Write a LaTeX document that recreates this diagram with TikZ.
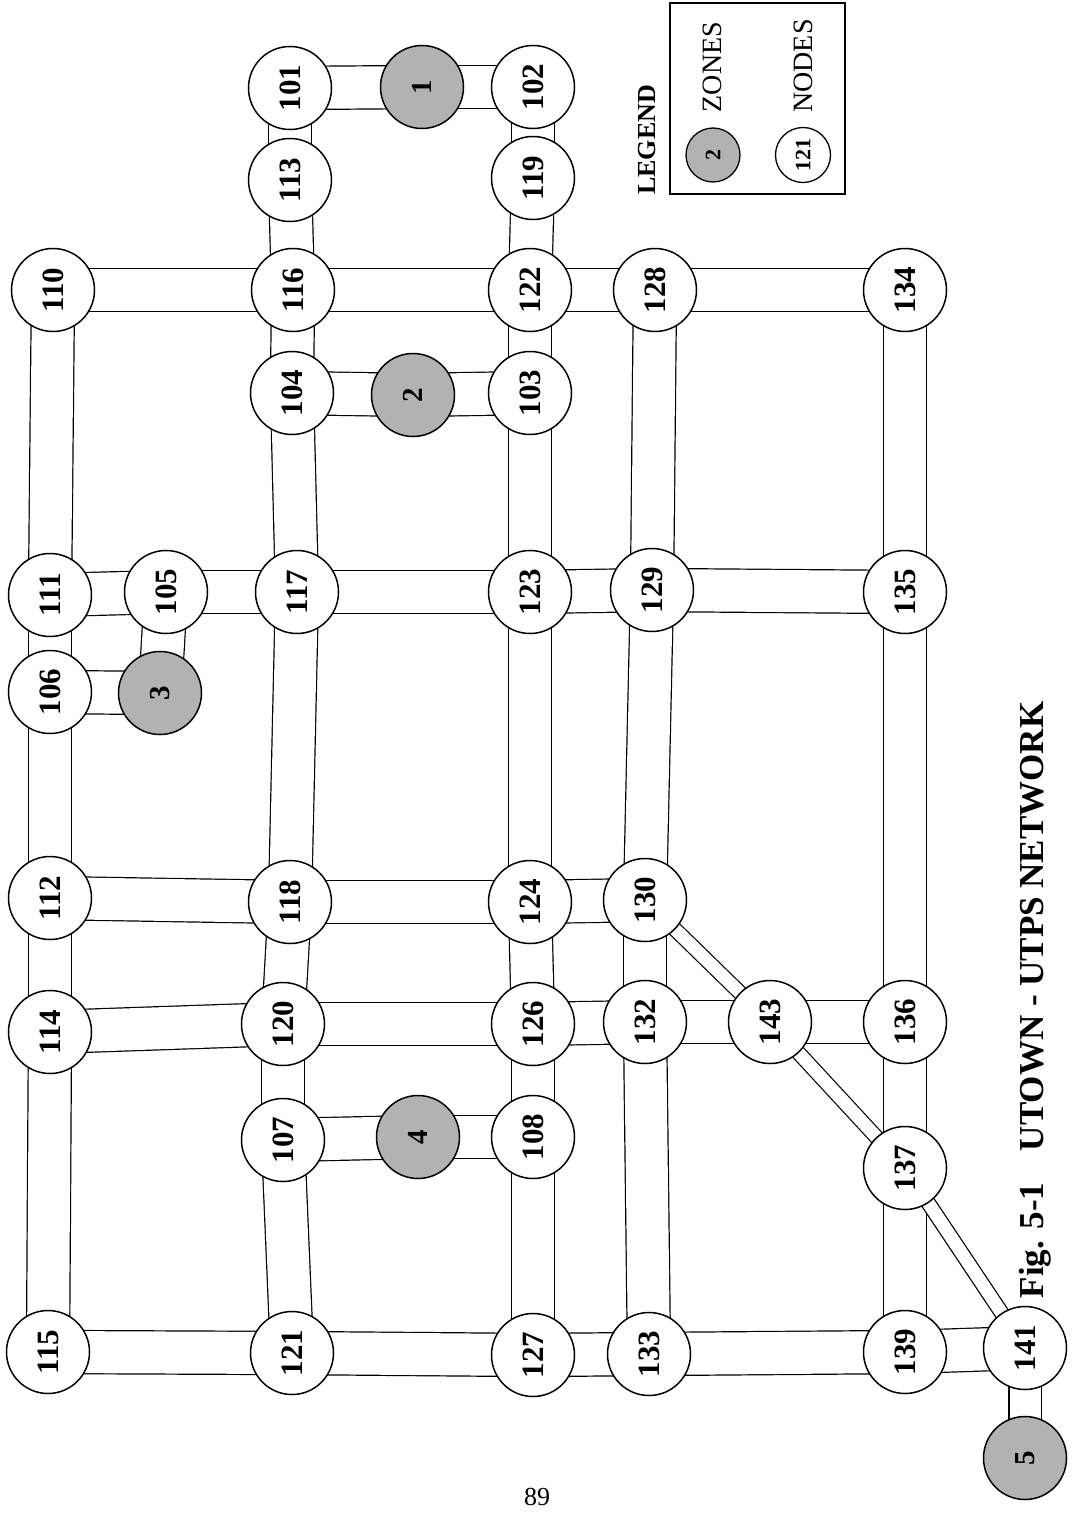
\documentclass[tikz,border=0pt]{standalone}
\usepackage{fontspec}
\setmainfont{Liberation Serif}
\pgfdeclarelayer{bg}
\pgfsetlayers{bg,main}
\tikzset{
  nd/.style={circle, draw=black, line width=1.5pt, fill=white, minimum size=83pt, inner sep=0pt, rotate=90, font=\bfseries\fontsize{31}{31}\selectfont},
  zone/.style={nd, fill=black!30, font=\bfseries\fontsize{29}{29}\selectfont},
  road/.style={draw=black, line width=1.2pt, double=white, double distance=42pt},
  spur/.style={road, double distance=31pt},
  lane/.style={draw=black, line width=1.2pt, double=white, double distance=13pt},
  lgd/.style={rotate=90, inner sep=0pt},
}
\begin{document}
\begin{tikzpicture}[x=1pt,y=-1pt]
\useasboundingbox (0,0) rectangle (1071,1528);
% nodes
\node[nd] (n101) at (290,88) {101};
\node[zone] (z1) at (422,87) {1};
\node[nd] (n102) at (533,87) {102};
\node[nd] (n113) at (290,180) {113};
\node[nd] (n119) at (533,178) {119};
\node[nd] (n110) at (53,290) {110};
\node[nd] (n116) at (293,290) {116};
\node[nd] (n122) at (530,290) {122};
\node[nd] (n128) at (655,290) {128};
\node[nd] (n134) at (905,290) {134};
\node[nd] (n104) at (292,393) {104};
\node[zone] (z2) at (413,395) {2};
\node[nd] (n103) at (530,393) {103};
\node[nd] (n111) at (50,595) {111};
\node[nd] (n105) at (166,592) {105};
\node[nd] (n117) at (297,592) {117};
\node[nd] (n123) at (530,592) {123};
\node[nd] (n129) at (652,590) {129};
\node[nd] (n135) at (905,592) {135};
\node[nd] (n106) at (50,692) {106};
\node[zone] (z3) at (160,693) {3};
\node[nd] (n112) at (50,898) {112};
\node[nd] (n118) at (290,902) {118};
\node[nd] (n124) at (530,902) {124};
\node[nd] (n130) at (645,900) {130};
\node[nd] (n114) at (50,1032) {114};
\node[nd] (n120) at (283,1024) {120};
\node[nd] (n126) at (533,1024) {126};
\node[nd] (n132) at (645,1022) {132};
\node[nd] (n143) at (770,1022) {143};
\node[nd] (n136) at (905,1022) {136};
\node[nd] (n107) at (283,1140) {107};
\node[zone] (z4) at (418,1137) {4};
\node[nd] (n108) at (533,1137) {108};
\node[nd] (n137) at (905,1168) {137};
\node[nd] (n115) at (48,1352) {115};
\node[nd] (n121) at (292,1353) {121};
\node[nd] (n127) at (533,1355) {127};
\node[nd] (n133) at (649,1354) {133};
\node[nd] (n139) at (905,1352) {139};
\node[nd] (n141) at (1025,1348) {141};
\node[zone] (z5) at (1025,1458) {5};
% roads
\begin{pgfonlayer}{bg}
\foreach \a/\b in {n110/n111, n111/n106, n106/n112, n112/n114, n114/n115,
  n101/n113, n113/n116, n116/n104, n104/n117, n117/n118, n118/n120, n120/n107, n107/n121,
  n102/n119, n119/n122, n122/n103, n103/n123, n123/n124, n124/n126, n126/n108, n108/n127,
  n128/n129, n129/n130, n130/n132, n132/n133,
  n134/n135, n135/n136, n136/n137, n137/n139,
  n105/z3,
  n101/z1, z1/n102, n110/n116, n116/n122, n122/n128, n128/n134,
  n104/z2, z2/n103, n111/n105, n105/n117, n117/n123, n123/n129, n129/n135,
  n106/z3, n112/n118, n118/n124, n124/n130,
  n114/n120, n120/n126, n126/n132, n132/n143, n143/n136,
  n107/z4, z4/n108,
  n115/n121, n121/n127, n127/n133, n133/n139, n139/n141}
  \draw[road] (\a.center) -- (\b.center);
\draw[spur] (n141.center) -- (z5.center);
\foreach \a/\b in {n130/n143, n143/n137, n137/n141}
  \draw[lane] (\a.center) -- (\b.center);
\end{pgfonlayer}
% legend
\node[draw=black, line width=1.2pt, minimum width=175pt, minimum height=191pt, inner sep=0pt] (box) at (757.5,98.5) {};
\node[lgd, font=\bfseries\fontsize{26}{26}\selectfont] (lgdt) at (647,140) {LEGEND};
\node[circle, draw=black, line width=1.3pt, fill=black!30, minimum size=54pt, inner sep=0pt, rotate=90, font=\bfseries\fontsize{22}{22}\selectfont] (lz) at (713,155) {2};
\node[circle, draw=black, line width=1.3pt, fill=white, minimum size=55pt, inner sep=0pt, rotate=90, font=\bfseries\fontsize{22}{22}\selectfont] (ln) at (803,155) {121};
\node[lgd, font=\fontsize{28}{28}\selectfont] (lzt) at (712,67) {ZONES};
\node[lgd, font=\fontsize{28}{28}\selectfont] (lnt) at (803,66) {NODES};
% title
\node[lgd, font=\bfseries\fontsize{35}{35}\selectfont] (title) at (1035,1000) {Fig. 5-1\hspace{0.9em}UTOWN - UTPS NETWORK};
\node[font=\fontsize{26}{26}\selectfont] (page) at (537,1497) {89};
\end{tikzpicture}
\end{document}
